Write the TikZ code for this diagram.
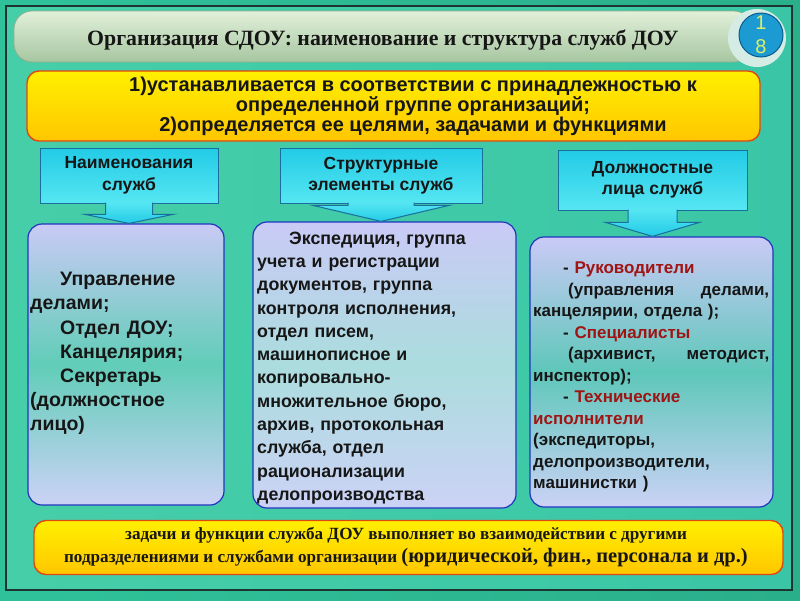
\documentclass[tikz,border=0pt]{standalone}
\usepackage{fontspec}
\setmainfont{Liberation Sans}
\newfontfamily\titleserif{Liberation Serif}
\usetikzlibrary{calc}

\definecolor{outerteal}{HTML}{2FC29A}
\definecolor{bgleft}{HTML}{46CEA8}
\definecolor{bgmid}{HTML}{D8F4F0}
\definecolor{bgright}{HTML}{3AC6A6}
\definecolor{frameline}{HTML}{1C3530}
\definecolor{bartop}{HTML}{E2F0DA}
\definecolor{barbot}{HTML}{A6C6A0}
\definecolor{barline}{HTML}{8FB08C}
\definecolor{ringpale}{HTML}{D4ECE4}
\definecolor{badgeblue}{HTML}{1C9AD2}
\definecolor{badgeline}{HTML}{0B5C8E}
\definecolor{badgetext}{HTML}{DDEE66}
\definecolor{yeltop}{HTML}{FFF000}
\definecolor{yelbot}{HTML}{FFC600}
\definecolor{yelline}{HTML}{E04810}
\definecolor{hdrtop}{HTML}{22CBE6}
\definecolor{hdrbot}{HTML}{56E6F2}
\definecolor{hdrline}{HTML}{1A6E9E}
\definecolor{lavtop}{HTML}{CACAF6}
\definecolor{lavbot}{HTML}{CCD2F6}
\definecolor{lavline}{HTML}{2334C0}
\definecolor{tred}{HTML}{A01414}
\definecolor{tdark}{HTML}{161616}

\begin{document}
\begin{tikzpicture}[x=1pt,y=-1pt,
  yellowbox/.style={draw=yelline, line width=1.4pt, rounded corners=12pt,
    top color=yeltop, bottom color=yelbot},
  hdrbox/.style={draw=hdrline, line width=1pt, top color=hdrtop, bottom color=hdrbot,
    align=center, text=tdark, inner sep=0pt,
    font=\fontsize{17.5}{21.5}\selectfont\bfseries},
  hdrarrow/.style={draw=hdrline, line width=1pt, top color=hdrbot, bottom color=hdrtop},
  lavbox/.style={draw=lavline, line width=1.2pt, rounded corners=14pt, inner sep=0pt},
  bodytext/.style={align=left, inner sep=0pt, anchor=north west, text=tdark}]
\useasboundingbox (0,0) rectangle (800,600);
% background and frame
\shade[left color=outerteal, right color=outerteal!90!black] (0,0) rectangle (800,600);
\shade[left color=bgleft, middle color=bgmid, right color=bgright] (6,6) rectangle (792,590);
\draw[frameline, line width=2.6pt] (6,6) rectangle (792,590);
% title bar with badge
\draw[barline, line width=0.8pt, top color=bartop, bottom color=barbot, rounded corners=18pt]
  (14,11) rectangle (752,62);
\fill[ringpale] (757,38) circle (29);
\node[circle, draw=badgeline, line width=1pt, fill=badgeblue, minimum size=44pt,
  inner sep=0pt, align=center, text=badgetext,
  font=\fontsize{20}{24}\selectfont] (badge) at (761,35) {1\\8};
\node[font=\titleserif\fontsize{21.8}{26}\selectfont\bfseries, text=tdark] (title)
  at (383,40) {Организация СДОУ: наименование и структура служб ДОУ};
% top yellow box
\node[yellowbox, minimum width=733pt, minimum height=70pt] (topbox) at (393.5,106) {};
\node[align=center, inner sep=0pt, text=tdark, font=\fontsize{20}{16.5}\selectfont\bfseries]
  (toptext) at (413,106)
  {1)устанавливается в соответствии с принадлежностью к\\
   определенной группе организаций;\hspace*{40pt}\\
   2)определяется ее целями, задачами и функциями};
% headers
\node[hdrbox, minimum width=178pt, minimum height=55pt] (h1) at (129,175.5)
  {Наименования\\служб};
\node[hdrbox, minimum width=202pt, minimum height=55pt] (h2) at (381,175.5)
  {Структурные\\элементы служб};
\node[hdrbox, minimum width=189pt, minimum height=60pt] (h3) at (652.5,180)
  {Должностные\\лица служб};
% content boxes
\node[lavbox, minimum width=196pt, minimum height=281pt,
  top color=lavtop, bottom color=lavbot, middle color=bgleft!80!lavtop] (c1) at (126,364.5) {};
\node[lavbox, minimum width=263pt, minimum height=286pt,
  top color=lavtop, bottom color=lavbot, middle color=bgmid!60!bgleft!70!lavtop] (c2) at (384.5,365) {};
\node[lavbox, minimum width=243pt, minimum height=270pt,
  top color=lavtop, bottom color=lavbot, middle color=bgright!75!lavtop] (c3) at (651.5,372) {};
% block arrows from headers down to boxes
\draw[hdrarrow] let \p1=(h1.south), \p2=(h1.south |- c1.north) in
  (\x1-23.5pt,\y1+1pt) -- (\x1-23.5pt,\y2+9pt) -- (\x1-44pt,\y2+9pt) -- (\x2,\y2)
  -- (\x1+44pt,\y2+9pt) -- (\x1+23.5pt,\y2+9pt) -- (\x1+23.5pt,\y1+1pt);
\draw[hdrarrow] let \p1=(h2.south), \p2=(h2.south |- c2.north) in
  (\x1-33pt,\y1+1pt) -- (\x1-33pt,\y2+16pt) -- (\x1-68pt,\y2+16pt) -- (\x2,\y2)
  -- (\x1+68pt,\y2+16pt) -- (\x1+33pt,\y2+16pt) -- (\x1+33pt,\y1+1pt);
\draw[hdrarrow] let \p1=(h3.south), \p2=(h3.south |- c3.north) in
  (\x1-24.5pt,\y1+1pt) -- (\x1-24.5pt,\y2+14pt) -- (\x1-47pt,\y2+14pt) -- (\x2,\y2)
  -- (\x1+47pt,\y2+14pt) -- (\x1+24.5pt,\y2+14pt) -- (\x1+24.5pt,\y1+1pt);
% texts in boxes
\node[bodytext, text width=192pt, font=\fontsize{19.5}{24.2}\selectfont\bfseries] (t1)
  at (30,272)
  {\hspace*{30pt}Управление\\делами;\\\hspace*{30pt}Отдел ДОУ;\\
   \hspace*{30pt}Канцелярия;\\\hspace*{30pt}Секретарь\\(должностное\\лицо)};
\node[bodytext, text width=255pt, font=\fontsize{17.8}{23.3}\selectfont\bfseries] (t2)
  at (257,231.5)
  {\hspace*{32pt}Экспедиция, группа\\учета и регистрации\\документов, группа\\
   контроля исполнения,\\отдел писем,\\машинописное и\\копировально-\\
   множительное бюро,\\архив, протокольная\\служба, отдел\\рационализации\\
   делопроизводства};
\node[bodytext, text width=236pt, font=\fontsize{17}{21.5}\selectfont\bfseries] (t3)
  at (533,262)
  {\hspace*{30pt}- \textcolor{tred}{Руководители}\\
   \hspace*{35pt}(управления\hfill делами,\\канцелярии, отдела );\\
   \hspace*{30pt}- \textcolor{tred}{Специалисты}\\
   \hspace*{35pt}(архивист,\hfill методист,\\инспектор);\\
   \hspace*{30pt}- \textcolor{tred}{Технические}\\\textcolor{tred}{исполнители}\\
   (экспедиторы,\\делопроизводители,\\машинистки )};
% bottom yellow box
\node[yellowbox, minimum width=749pt, minimum height=54pt] (botbox) at (408.5,547.5) {};
\node[align=center, inner sep=0pt, text=tdark,
  font=\titleserif\fontsize{17.1}{23}\selectfont\bfseries] (bottext) at (406,547.5)
  {задачи и функции служба ДОУ выполняет во взаимодействии с другими\\
   подразделениями и службами организации {\fontsize{20.5}{23}\selectfont(юридической, фин., персонала и др.)}};
\end{tikzpicture}
\end{document}
